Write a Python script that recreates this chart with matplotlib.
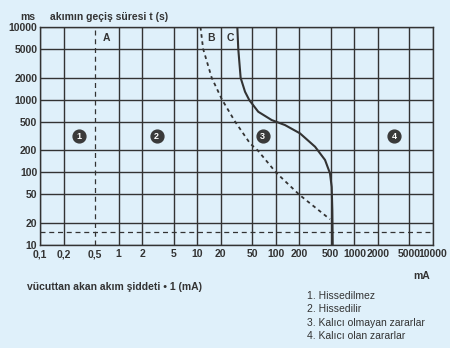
import matplotlib.pyplot as plt
import numpy as np

plt.rcParams['font.family'] = ['Liberation Sans', 'DejaVu Sans']

# axis ticks
x_ticks = [0.1, 0.2, 0.5, 1, 2, 5, 10, 20, 50, 100, 200, 500, 1000, 2000, 5000, 10000]
x_labels = ["0,1", "0,2", "0,5", "1", "2", "5", "10", "20", "50", "100", "200", "500", "1000", "2000", "5000", "10000"]
y_ticks = [10, 20, 50, 100, 200, 500, 1000, 2000, 5000, 10000]
y_labels = [str(v) for v in y_ticks]

# curve B (dashed) - current mA, time ms
b_ma = [11.0, 11.9, 15.3, 20.7, 30.3, 47, 59, 101, 200, 489]
b_ms = [10000, 5000, 2000, 1000, 500, 250, 200, 99, 49, 22.6]

# curve C (solid)
c_ma = [32.4, 33.3, 35.7, 40.6, 46.0, 59.8, 88.7, 131, 203, 316, 423, 489, 514, 524, 530]
c_ms = [10000, 5000, 2000, 1285, 987, 682, 524, 447, 344, 225, 148, 97, 63, 30, 10]

# limit lines
a_ma = 0.5
h_ms = 15

# zone markers
zone_ids = ["1", "2", "3", "4"]
zone_ma = [0.316, 3.05, 68, 3220]
zone_ms = [316, 316, 316, 316]

legend_lines = ["1. Hissedilmez", "2. Hissedilir", "3. Kalıcı olmayan zararlar", "4. Kalıcı olan zararlar"]

bg = "#dff0fa"
ink = "#333333"

fig = plt.figure(figsize=(4.5, 3.48), dpi=100)
fig.patch.set_facecolor(bg)
ax = fig.add_axes([40 / 450, 1 - 245 / 348, 393 / 450, 218 / 348])
ax.set_facecolor(bg)
ax.set_xscale("log")
ax.set_yscale("log")
ax.set_xlim(0.1, 10000)
ax.set_ylim(10, 10000)

for v in x_ticks:
    if v == a_ma:
        ax.axvline(v, color=ink, lw=0.9, ls=(0, (4, 3)))
    else:
        ax.axvline(v, color=ink, lw=1.0)
for v in y_ticks:
    ax.axhline(v, color=ink, lw=1.0)
ax.axhline(h_ms, color=ink, lw=0.9, ls=(0, (4, 3)))

ax.plot(b_ma, b_ms, color=ink, lw=1.3, ls=(0, (2, 2)))
ax.plot(c_ma, c_ms, color=ink, lw=1.5, solid_joinstyle="round")

for z, xm, ym in zip(zone_ids, zone_ma, zone_ms):
    ax.scatter([xm], [ym], s=85, color="#3a3a3a", zorder=5)
    ax.text(xm, ym, z, color="white", fontsize=6.5, fontweight="bold",
            ha="center", va="center", zorder=6)

ax.text(0.62, 7000, "A", fontsize=7.5, fontweight="bold", color=ink, va="center")
ax.text(13.3, 7000, "B", fontsize=7.5, fontweight="bold", color=ink, va="center")
ax.text(23.5, 7000, "C", fontsize=7.5, fontweight="bold", color=ink, va="center")

ax.set_xticks(x_ticks)
ax.set_xticklabels(x_labels)
ax.set_yticks(y_ticks)
ax.set_yticklabels(y_labels)
ax.minorticks_off()
ax.tick_params(length=0, labelsize=7.5, labelcolor=ink, pad=3)
ax.tick_params(axis="y", pad=2)
for lab in ax.get_xticklabels() + ax.get_yticklabels():
    lab.set_fontweight("bold")
for s in ax.spines.values():
    s.set_color(ink)
    s.set_linewidth(1.0)

fig.text(28 / 450, 1 - 17 / 348, "ms", fontsize=7.5, fontweight="bold", color=ink, ha="center", va="center")
fig.text(50 / 450, 1 - 17 / 348, "akımın geçiş süresi t (s)", fontsize=7.5, fontweight="bold", color=ink, va="center")
fig.text(422 / 450, 1 - 276 / 348, "mA", fontsize=7.5, fontweight="bold", color=ink, ha="center", va="center")
fig.text(27 / 450, 1 - 287 / 348, "vücuttan akan akım şiddeti • 1 (mA)", fontsize=7.5, fontweight="bold", color=ink, va="center")
for i, line in enumerate(legend_lines):
    fig.text(307 / 450, 1 - (296 + 13.3 * i) / 348, line, fontsize=7.5, color=ink, va="center")

fig.savefig("out.png", dpi=100, facecolor=bg)
